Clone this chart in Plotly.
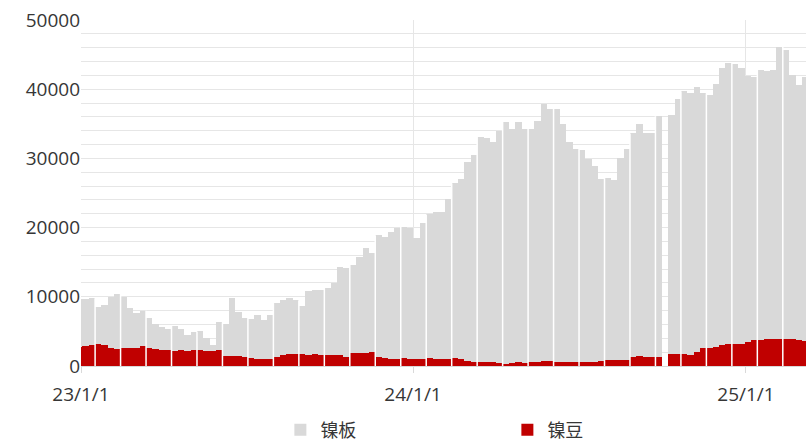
# weekly nickel inventory: 镍板 vs 镍豆, overlaid bars
import pandas as pd
import plotly.graph_objects as go

# weekly (Friday) dates, 2022-12-30 .. 2025-03-07
weeks = pd.date_range("2022-12-30", "2025-03-07", freq="7D")

# 镍板 (grey), None = no data that week (National Day 2024)
plate = [
    9700, 9700, 9800, 8500, 8800, 9900, 10400, 10000, 8400, 7700,
    8000, 6900, 6100, 5700, 5400, 5800, 5400, 4500, 4900, 5000,
    4000, 3000, 6300, 6100, 9800, 7800, 7000, 6800, 7400, 6600,
    7400, 9100, 9600, 9800, 9500, 8700, 10800, 11000, 11000, 11300,
    12000, 14300, 14100, 14600, 15700, 17000, 16300, 18900, 18600, 19400,
    19900, 20100, 20000, 18500, 20700, 21900, 22200, 22200, 24200, 26400,
    27000, 29500, 30500, 33100, 32900, 32400, 34000, 35300, 34300, 35300,
    34300, 34200, 35400, 37800, 37200, 37200, 34900, 32400, 31400, 31200,
    29900, 28900, 27000, 27200, 26900, 30000, 31400, 33600, 35000, 33600,
    33700, 36100, None, 36300, 38600, 39700, 39400, 40300, 39400, 39200,
    40800, 43100, 43800, 43700, 43100, 41900, 41800, 42800, 42700, 42800,
    46100, 45600, 42000, 40600, 41800,
]

# 镍豆 (red)
bean = [
    2800, 2950, 3000, 3150, 3050, 2550, 2500, 2550, 2550, 2550,
    2850, 2550, 2500, 2350, 2350, 2200, 2350, 2200, 2300, 2250,
    2200, 2200, 2300, 1500, 1400, 1400, 1300, 1100, 1050, 1000,
    1050, 1300, 1600, 1800, 1700, 1700, 1650, 1700, 1650, 1600,
    1650, 1600, 1300, 1900, 1900, 1950, 2050, 1300, 1100, 1050,
    1050, 1100, 1050, 1050, 1000, 1100, 1050, 1000, 950, 1200,
    1000, 750, 650, 550, 550, 550, 500, 350, 500, 550,
    500, 550, 650, 700, 700, 650, 650, 600, 650, 600,
    600, 650, 700, 800, 850, 850, 900, 1350, 1400, 1350,
    1350, 1350, None, 1750, 1750, 1800, 1650, 2050, 2600, 2600,
    2800, 3000, 3250, 3200, 3250, 3500, 3750, 3750, 3850, 3850,
    3850, 3850, 3850, 3700, 3650,
]

font = "Open Sans, Noto Sans CJK SC"

fig = go.Figure()
fig.add_trace(go.Bar(x=weeks, y=plate, name="镍板",
                     marker=dict(color="#d9d9d9", line_width=0)))
fig.add_trace(go.Bar(x=weeks, y=bean, name="镍豆",
                     marker=dict(color="#c00000", line_width=0)))

# thin white seams between groups of weekly bars
half_week = pd.Timedelta(days=3.5)
for k in range(3, len(weeks), 4):
    tops = [v for v in (plate[k - 1], plate[k]) if v is not None]
    if not tops:
        continue
    x = weeks[k] - half_week
    fig.add_shape(type="line", x0=x, x1=x, y0=0, y1=max(tops),
                  line=dict(color="white", width=1.5), layer="above")

fig.update_layout(
    width=809, height=444,
    margin=dict(l=81, r=3, t=20, b=78, autoexpand=False),
    barmode="overlay", bargap=0,
    plot_bgcolor="white", paper_bgcolor="white",
    font=dict(family=font, size=19, color="#363636"),
    legend=dict(orientation="h", x=0.275, xanchor="left", y=-0.185, yanchor="middle",
                entrywidth=182, entrywidthmode="pixels", itemwidth=30,
                font=dict(family="Noto Sans CJK SC", size=18, color="#363636")),
    showlegend=True,
)
fig.update_xaxes(
    type="date", range=["2023-01-01", "2025-03-08"],
    tick0="2023-01-01", dtick="M12", tickformat="%y/%-m/%-d",
    showgrid=True, gridcolor="#e6e6e6", gridwidth=1,
    showline=True, linecolor="#d9d9d9", linewidth=1,
    ticks="outside", ticklen=6, tickcolor="#d9d9d9", ticklabelstandoff=5,
)
fig.update_yaxes(
    range=[0, 50000], dtick=10000, tickformat="d",
    showgrid=True, gridcolor="#e6e6e6", gridwidth=1,
    minor=dict(dtick=2000, showgrid=True, gridcolor="#e6e6e6", gridwidth=1),
    zeroline=False, showline=False,
)

fig.write_html("out.html", config={"displayModeBar": False},
               post_script="document.body.style.margin='0';")
